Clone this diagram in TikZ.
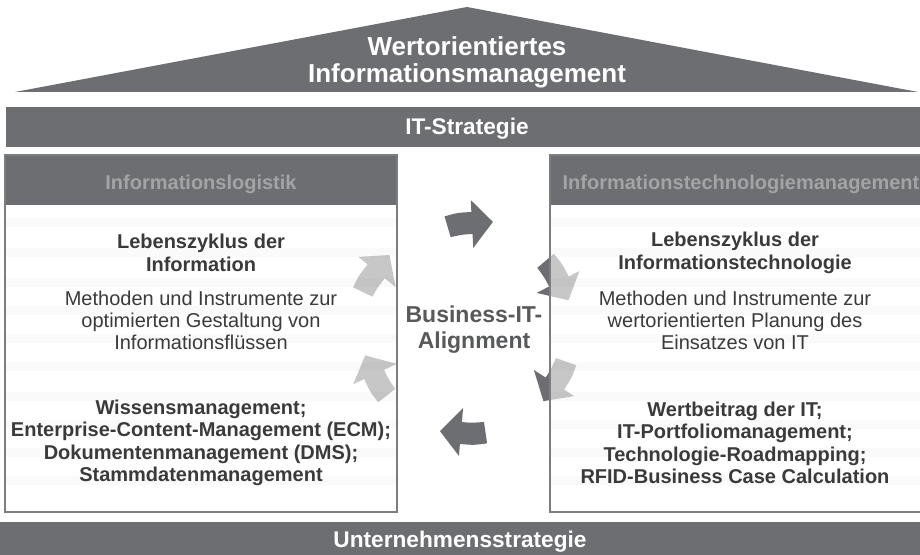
\documentclass[tikz,border=0pt]{standalone}
\usepackage{fontspec}
\setmainfont{Liberation Sans}
\usetikzlibrary{positioning}

\definecolor{housegray}{HTML}{6D6E71}
\definecolor{headgray}{HTML}{A3A4A6}
\definecolor{inkgray}{HTML}{3A3A3A}
\definecolor{midgray}{HTML}{58595B}
\definecolor{framegray}{HTML}{7C7D80}

\tikzset{
  slab/.style={fill=housegray},
  slabtext/.style={text=white, font=\fontsize{17pt}{19pt}\selectfont\bfseries},
  rooftext/.style={text=white, align=center, font=\fontsize{19.5pt}{20.3pt}\selectfont\bfseries},
  pillarbody/.style={fill=white, fill opacity=0.62},
  pillarframe/.style={draw=framegray, line width=1.1pt},
  pillarhead/.style={text=headgray, font=\fontsize{15pt}{17pt}\selectfont\bfseries},
  stripe/.style={fill=black, fill opacity=0.02},
  boldblock/.style={text=inkgray, align=center, font=\fontsize{15pt}{16.9pt}\selectfont\bfseries},
  plainblock/.style={text=inkgray, align=center, font=\fontsize{15pt}{16.6pt}\selectfont},
  cyclearrow/.style={fill=housegray},
}

\begin{document}
\begin{tikzpicture}[x=0.75pt, y=-0.75pt]
  % canvas
  \fill[white] (0,0) rectangle (920,555);
  \useasboundingbox (0,0) rectangle (920,555);

  % roof and IT-Strategie slab
  \fill[slab] (15,92) -- (467,7) -- (918,92) -- cycle;
  \fill[slab] (6,107) rectangle (925,147);

  % alignment cycle (drawn below the pillars)
  \foreach \px/\py/\ang in {472/224/3, 558/282/-63, 554/383/-123,
                            461/432/175, 375/374/115, 377/272/51}
    \fill[cyclearrow, shift={(\px,\py)}, rotate=\ang]
      (-27,-9) .. controls (-14,-12) .. (0,-12) -- (0,-24) -- (21,-1)
      -- (0,24) -- (0,10) .. controls (-10,10) .. (-22,12) -- cycle;

  % pillars
  \fill[pillarbody] (5,205) rectangle (397,512);
  \fill[pillarbody] (550,205) rectangle (925,512);
  \foreach \sy in {218,248,278,306,334,362,392,420,448,476}{
    \fill[stripe] (6,\sy) rectangle (396,\sy+9);
    \fill[stripe] (551,\sy) rectangle (924,\sy+9);
  }
  \fill[slab] (5,155) rectangle (397,205);
  \fill[slab] (550,155) rectangle (925,205);
  \draw[pillarframe] (5,155) rectangle (397,512);
  \draw[pillarframe] (550,155) rectangle (925,512);

  % foundation
  \fill[slab] (0,522) rectangle (920,555);

  % labels
  \node[rooftext] (roof) at (467,62) {Wertorientiertes\\Informationsmanagement};
  \node[slabtext] (itstrat) at (467,129) {IT-Strategie};
  \node[slabtext] (ustrat) at (460,542) {Unternehmensstrategie};

  \node[pillarhead] (logHead) at (201,184) {Informationslogistik};
  \node[pillarhead] (techHead) at (741,184) {Informationstechnologiemanagement};

  \node[boldblock] (logLife) at (201,253) {Lebenszyklus der\\Information};
  \node[plainblock] (logMeth) at (201,320) {Methoden und Instrumente zur\\optimierten Gestaltung von\\Informationsflüssen};
  \node[boldblock] (logTools) at (201,443) {Wissensmanagement;\\Enterprise-Content-Management (ECM);\\Dokumentenmanagement (DMS);\\Stammdatenmanagement};

  \node[boldblock] (techLife) at (735,253) {Lebenszyklus der\\Informationstechnologie};
  \node[plainblock] (techMeth) at (735,320) {Methoden und Instrumente zur\\wertorientierten Planung des\\Einsatzes von IT};
  \node[boldblock] (techTools) at (735,443) {Wertbeitrag der IT;\\IT-Portfoliomanagement;\\Technologie-Roadmapping;\\RFID-Business Case Calculation};

  \node[text=midgray, align=center, font=\fontsize{17.25pt}{19.5pt}\selectfont\bfseries]
    (bita) at (474,330) {Business-IT-\\Alignment};
\end{tikzpicture}
\end{document}
